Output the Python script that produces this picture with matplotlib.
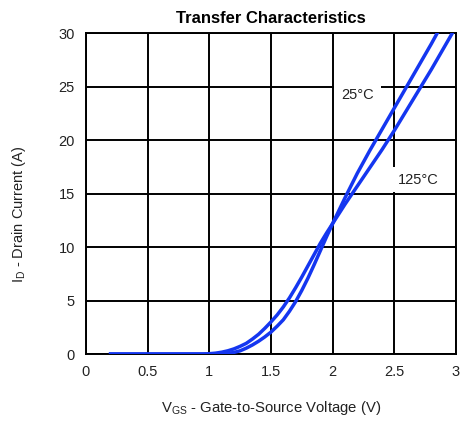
import matplotlib
matplotlib.use("Agg")
import matplotlib.pyplot as plt

plt.rcParams["font.family"] = ["Liberation Sans", "DejaVu Sans"]
plt.rcParams["mathtext.fontset"] = "custom"
plt.rcParams["mathtext.rm"] = "Liberation Sans"
plt.rcParams["mathtext.it"] = "Liberation Sans"

# Transfer curves (VGS in V, ID in A)
vgs_25 = [0.2, 1.0, 1.05, 1.1, 1.15, 1.2, 1.25, 1.3, 1.35, 1.4, 1.45, 1.5,
          1.55, 1.6, 1.65, 1.7, 1.75, 1.8, 1.85, 1.9, 1.95, 2.0,
          2.1, 2.2, 2.3, 2.4, 2.5, 2.6, 2.7, 2.8, 2.9]
id_25 = [0.0, 0.0, 0.0, 0.02, 0.06, 0.15, 0.3, 0.55, 0.85, 1.2, 1.6, 2.05,
         2.6, 3.2, 4.0, 4.9, 5.95, 7.1, 8.35, 9.65, 10.95, 12.2,
         14.6, 16.9, 19.0, 21.0, 23.0, 25.0, 27.0, 29.0, 31.1]

vgs_125 = [0.2, 0.95, 1.0, 1.05, 1.1, 1.15, 1.2, 1.25, 1.3, 1.35, 1.4, 1.45,
           1.5, 1.55, 1.6, 1.65, 1.7, 1.75, 1.8, 1.85, 1.9, 1.95, 2.0,
           2.1, 2.2, 2.3, 2.4, 2.5, 2.6, 2.7, 2.8, 2.9, 3.0]
id_125 = [0.0, 0.0, 0.03, 0.08, 0.17, 0.3, 0.48, 0.72, 1.0, 1.4, 1.85, 2.4,
          3.0, 3.65, 4.4, 5.25, 6.2, 7.2, 8.25, 9.3, 10.35, 11.3, 12.2,
          14.0, 15.7, 17.4, 19.1, 20.9, 22.8, 24.7, 26.6, 28.6, 30.6]

x_ticks = [0, 0.5, 1, 1.5, 2, 2.5, 3]
x_tick_labels = ["0", "0.5", "1", "1.5", "2", "2.5", "3"]
y_ticks = [0, 5, 10, 15, 20, 25, 30]

blue = "#1436f0"

fig = plt.figure(figsize=(4.62, 4.25), dpi=100)
ax = fig.add_axes([0.186, 0.167, 0.801, 0.755])

ax.plot(vgs_25, id_25, color=blue, lw=2.5, solid_joinstyle="round", zorder=3)
ax.plot(vgs_125, id_125, color=blue, lw=2.5, solid_joinstyle="round", zorder=3)

ax.set_xlim(0, 3)
ax.set_ylim(0, 30)
ax.set_xticks(x_ticks)
ax.set_xticklabels(x_tick_labels)
ax.set_yticks(y_ticks)
ax.grid(True, color="black", lw=1.4, zorder=1)
ax.set_axisbelow(True)
for s in ax.spines.values():
    s.set_linewidth(1.4)
ax.tick_params(length=0, labelsize=10.5, pad=8, colors="#222222")

ax.text(2.2, 24.2, "25°C", fontsize=10.5, ha="center", va="center", color="#222222",
        bbox=dict(facecolor="white", edgecolor="none", pad=5), zorder=4)
ax.text(2.69, 16.3, "125°C", fontsize=10.5, ha="center", va="center", color="#222222",
        bbox=dict(facecolor="white", edgecolor="none", pad=4), zorder=4)

ax.set_title("Transfer Characteristics", fontsize=12, fontweight="bold", pad=7)
ax.set_xlabel("V$_{\\mathrm{GS}}$ - Gate-to-Source Voltage (V)", fontsize=10.7,
              labelpad=14, color="#222222")
ax.set_ylabel("I$_{\\mathrm{D}}$ - Drain Current (A)", fontsize=10.5,
              color="#222222")
ax.yaxis.set_label_coords(-0.157, 0.435)

fig.savefig("out.png", dpi=100)
